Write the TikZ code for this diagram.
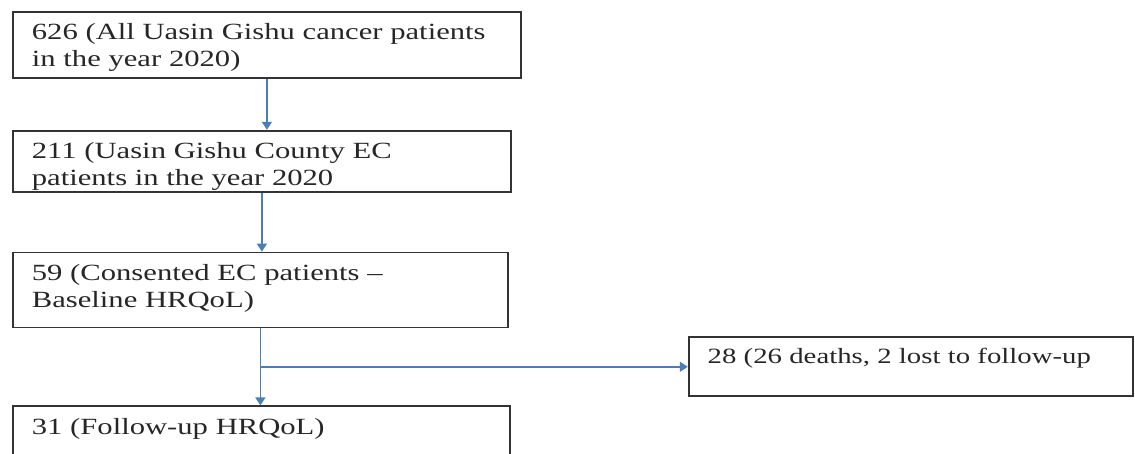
\documentclass[tikz,border=0pt]{standalone}
\usepackage{fontspec}
\setmainfont{Liberation Serif}[FakeStretch=1.32]
\usepackage{tikz}
\usetikzlibrary{positioning, arrows.meta}
\definecolor{flowblue}{HTML}{4A7EBB}
\tikzset{
  stage/.style={rectangle, draw=black!80, line width=0.9pt, align=left, anchor=north west, inner xsep=9.5pt, inner ysep=5.5pt, text height=8.5pt, font=\fontsize{11.6}{13.5}\selectfont, text=black!85},
  flow/.style={draw=flowblue, line width=0.75pt, -{Triangle[length=4pt,width=5pt]}}
}
\begin{document}
\begin{tikzpicture}
            \useasboundingbox (0,0) rectangle (567.5pt,-227pt);

            % --- main column ---
            \node (all) [stage, text width=235pt, text depth=13.5pt] at (6pt,-5.5pt) {626 (All Uasin Gishu cancer patients\\in the year 2020)};
            \node (county) [stage, text width=230pt, text depth=11pt, below=25.5pt of all.south west, anchor=north west] {211 (Uasin Gishu County EC\\patients in the year 2020};
            \node (baseline) [stage, text width=228.5pt, text depth=18pt, below=29.5pt of county.south west, anchor=north west] {59 (Consented EC patients –\\Baseline HRQoL)};
            \node (followup) [stage, text width=229.5pt, text depth=18pt, below=38.5pt of baseline.south west, anchor=north west] {31 (Follow-up HRQoL)};

            % --- drop-outs ---
            \node (lost) [stage, text width=203pt, text depth=11.5pt, inner ysep=5pt, text height=8pt, font=\fontsize{10.9}{13}\selectfont, below right=4pt and 89.5pt of baseline.south east, anchor=north west] {28 (26 deaths, 2 lost to follow-up};

            \draw [flow] (all.south) -- (all.south |- county.north);
            \draw [flow] (county.south) -- (county.south |- baseline.north);
            \draw [flow] (baseline.south) -- (baseline.south |- followup.north);
            \coordinate (split) at (baseline.south |- lost.west);
            \draw [flow] (split) -- (lost.west);

\end{tikzpicture}
\end{document}
